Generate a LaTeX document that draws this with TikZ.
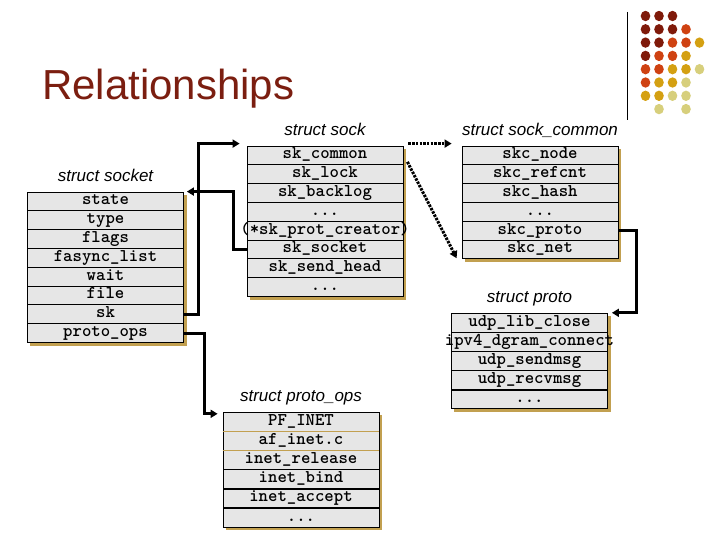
\documentclass[tikz,border=0pt]{standalone}
\usepackage{fontspec}
\setmainfont{Liberation Sans}
\usepackage{tikz}
\usetikzlibrary{positioning, arrows.meta, backgrounds}
\definecolor{title-red}{HTML}{7B1E10}
\definecolor{dot-dark}{HTML}{7F1A0A}
\definecolor{dot-orange}{HTML}{CF4212}
\definecolor{dot-gold}{HTML}{D4A012}
\definecolor{dot-pale}{HTML}{D7CF7C}
\definecolor{row-gray}{HTML}{E6E6E6}
\definecolor{shadow-tan}{HTML}{C2A050}
\newcommand{\skiprow}{...}

\begin{document}
\begin{tikzpicture}[
    x=1pt, y=-1pt,
    title/.style={font=\fontsize{42}{46}\selectfont, text=title-red, inner sep=0},
    row/.style={draw, fill=row-gray, line width=0.8pt, minimum width=156, minimum height=18.8,
                inner sep=0, text height=10pt, text depth=3pt,
                font=\ttfamily\bfseries\fontsize{17.9}{20}\selectfont},
    lbl/.style={font=\itshape\fontsize{17}{20}\selectfont, inner sep=0, text height=12.5pt, text depth=3pt},
    arr/.style={-{Triangle[length=7pt, width=8pt]}, line width=3pt},
    ptr/.style={arr, dash pattern=on 2.5pt off 1.2pt},
]
    \useasboundingbox (0,0) rectangle (720,540);

    % Title and corner dots
    \node[title, anchor=base west] (title) at (42, 100) {Relationships};
    \draw[line width=1pt] (627,12) -- (627,120);
    \foreach \r/\cs in {1/{1,2,3}, 2/{1,2,3,4}, 3/{1,2,3,4,5}, 4/{1,2,3,4},
                        5/{1,2,3,4,5}, 6/{1,2,3,4}, 7/{1,2,3,4}, 8/{2,4}}
        \foreach \c in \cs {
            \pgfmathtruncatemacro{\lv}{\r+\c}
            \ifnum\lv<6 \def\dotcol{dot-dark}\else\ifnum\lv<8 \def\dotcol{dot-orange}\else
            \ifnum\lv<10 \def\dotcol{dot-gold}\else\def\dotcol{dot-pale}\fi\fi\fi
            \fill[\dotcol] (632+\c*13.5, 2.7+\r*13.3) ellipse (4.8 and 5.2);
        }

    % struct socket
    \foreach \t [count=\i] in {state, type, flags, fasync\_list, wait, file, sk, proto\_ops}
        \node[row] (socket-\i) at (105.5, 192+\i*18.8-9.4) {\makebox[0pt]{\t}};
    \node[lbl, above=7pt of socket-1] (socket-lbl) {struct socket};

    % struct sock
    \foreach \t [count=\i] in {sk\_common, sk\_lock, sk\_backlog, \skiprow, {(*sk\_prot\_creator)},
                               sk\_socket, sk\_send\_head, \skiprow}
        \node[row] (sock-\i) at (325, 146+\i*18.8-9.4) {\makebox[0pt]{\t}};
    \node[lbl, above=7pt of sock-1] (sock-lbl) {struct sock};

    % struct sock_common
    \foreach \t [count=\i] in {skc\_node, skc\_refcnt, skc\_hash, \skiprow, skc\_proto, skc\_net}
        \node[row] (common-\i) at (540, 146+\i*18.8-9.4) {\makebox[0pt]{\t}};
    \node[lbl, above=7pt of common-1] (common-lbl) {struct sock\_common};

    % struct proto
    \foreach \t [count=\i] in {udp\_lib\_close, ipv4\_dgram\_connect, udp\_sendmsg, udp\_recvmsg, \skiprow}
        \node[row] (proto-\i) at (529.5, 313+\i*19.2-9.6) {\makebox[0pt]{\t}};
    \node[lbl, above=7pt of proto-1] (proto-lbl) {struct proto};

    % struct proto_ops
    \foreach \t [count=\i] in {PF\_INET, af\_inet.c, inet\_release, inet\_bind, inet\_accept, \skiprow}
        \node[row] (pops-\i) at (301, 412+\i*19.2-9.6) {\makebox[0pt]{\t}};
    \node[lbl, above=7pt of pops-1] (pops-lbl) {struct proto\_ops};
    \draw[shadow-tan, line width=1pt] (pops-2.north west) -- (pops-2.north east)
        (pops-2.south west) -- (pops-2.south east);

    % shadows
    \begin{scope}[on background layer]
        \foreach \tb/\n in {socket/8, sock/8, common/6, proto/5, pops/6}
            \fill[shadow-tan] ([shift={(3,3)}]\tb-1.north west) rectangle ([shift={(3,3)}]\tb-\n.south east);
    \end{scope}

    % pointers
    \draw[arr] (socket-7.east) -- ++(15,0) |- ([xshift=-7pt, yshift=2pt]sock-1.north west);
    \draw[arr] (sock-6.west) -- ++(-13,0) |- ([xshift=3pt]socket-1.north east);
    \draw[arr] (socket-8.east) -- ++(21,0) |- ([xshift=-5pt, yshift=-2pt]pops-1.north west);
    \draw[arr] (common-5.east) -- ++(18,0) |- ([xshift=4pt]proto-1.north east);
    \draw[ptr] ([xshift=5pt, yshift=2pt]sock-1.north east) -- ([xshift=-10pt, yshift=2pt]common-1.north west);
    \draw[ptr] ([xshift=4pt, yshift=-6.5pt]sock-1.east) -- ([xshift=-5pt, yshift=1pt]common-6.south west);

\end{tikzpicture}
\end{document}
